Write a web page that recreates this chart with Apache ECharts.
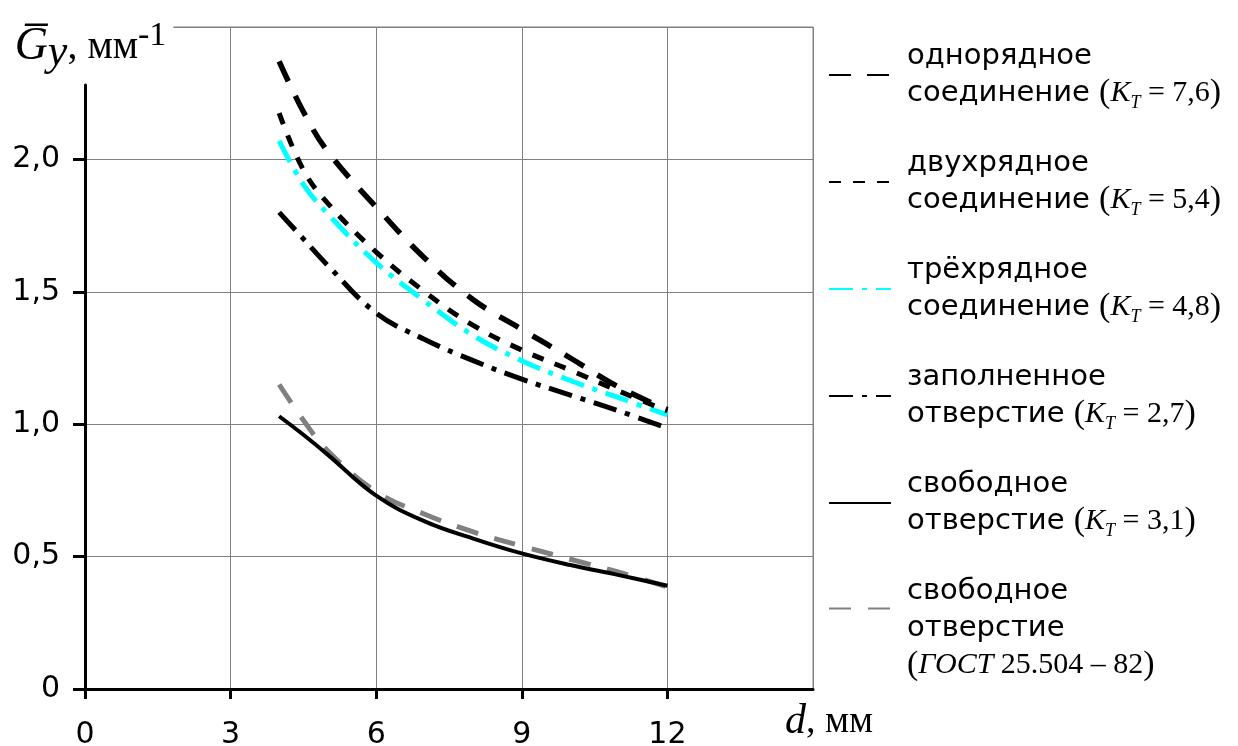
<!DOCTYPE html>
<html>
<head>
<meta charset="utf-8">
<script src="https://cdn.jsdelivr.net/npm/echarts@6/dist/echarts.min.js"></script>
<style>
html,body{margin:0;padding:0;background:#fff;}
#chart{width:1238px;height:746px;}
</style>
</head>
<body>
<div id="chart"></div>
<script>
// ---- data ----
const xValues = [4, 4.5, 5, 6, 7, 8, 9, 10, 11, 12];
const odnoryadnoe = [2.37, 2.18, 2.03, 1.82, 1.627, 1.47, 1.358, 1.25, 1.14, 1.055];
const dvuhryadnoe = [2.175, 1.96, 1.835, 1.65, 1.50, 1.373, 1.28, 1.204, 1.125, 1.05];
const tryohryadnoe = [2.07, 1.905, 1.795, 1.61, 1.465, 1.335, 1.24, 1.165, 1.10, 1.035];
const zapolnennoe = [1.80, 1.70, 1.60, 1.42, 1.32, 1.24, 1.17, 1.11, 1.05, 0.985];
const svobodnoe = [1.03, 0.96, 0.885, 0.73, 0.633, 0.568, 0.512, 0.468, 0.43, 0.39];
const svobodnoeGost = [1.15, 1.015, 0.90, 0.745, 0.66, 0.593, 0.54, 0.49, 0.441, 0.385];

const seriesNames = ['однорядное соединение', 'двухрядное соединение', 'трёхрядное соединение',
  'заполненное отверстие', 'свободное отверстие', 'свободное отверстие ГОСТ'];
const firstLines = ['однорядное', 'двухрядное', 'трёхрядное', 'заполненное', 'свободное', 'свободное'];
const secondLines = ['соединение', 'соединение', 'соединение', 'отверстие', 'отверстие', 'отверстие'];
const ktValues = ['7,6', '5,4', '4,8', '2,7', '3,1', null];
const gostLabel = ['ГОСТ', '25.504 – 82'];

const xTicks = { min: 0, max: 15, interval: 3 };
const yTicks = { min: 0, max: 2.5, interval: 0.5 };

function pairs(ys) { return xValues.map((x, i) => [x, ys[i]]); }

const chart = echarts.init(document.getElementById('chart'));

const serifFont = '"Liberation Serif", "Times New Roman", serif';
const sansFont = '"DejaVu Sans", sans-serif';

const legendRich = {
  p: { fontFamily: serifFont, fontSize: 34, lineHeight: 37, color: '#000' },
  k: { fontFamily: serifFont, fontStyle: 'italic', fontSize: 30, lineHeight: 37, color: '#000' },
  t: { fontFamily: serifFont, fontStyle: 'italic', fontSize: 18, lineHeight: 24, verticalAlign: 'bottom', color: '#000' },
  v: { fontFamily: serifFont, fontSize: 30, lineHeight: 37, color: '#000' },
  gap: { fontSize: 10, lineHeight: 40 }
};

function legendText(name) {
  const i = seriesNames.indexOf(name);
  if (ktValues[i] !== null) {
    return firstLines[i] + '\n' + secondLines[i] + ' {p|(}{k|K}{t|T}{v| = ' + ktValues[i] + '}{p|)}';
  }
  return '{gap| }\n' + firstLines[i] + '\n' + secondLines[i] + '\n{p|(}{k|' + gostLabel[0] + '}{v| ' + gostLabel[1] + '}{p|)}';
}

const styles = [
  { color: '#000000', width: 5.5, type: [22, 16] },
  { color: '#000000', width: 5, type: [12, 12] },
  { color: '#00ffff', width: 5, type: [24, 9, 5, 9] },
  { color: '#000000', width: 5, type: [24, 9, 5, 9] },
  { color: '#000000', width: 4, type: 'solid' },
  { color: '#808080', width: 5, type: [22, 17] }
];
const datasets = [odnoryadnoe, dvuhryadnoe, tryohryadnoe, zapolnennoe, svobodnoe, svobodnoeGost];

const legendCommon = {
  orient: 'vertical',
  left: 828,
  padding: 0,
  itemWidth: 62,
  itemHeight: 14,
  itemGap: 33,
  selectedMode: false,
  formatter: legendText,
  itemStyle: { opacity: 0 },
  textStyle: {
    fontFamily: sansFont, fontSize: 29, lineHeight: 37, color: '#000',
    padding: [0, 0, 0, 11],
    rich: legendRich
  }
};

const option = {
  animation: false,
  backgroundColor: '#ffffff',
  grid: [
    {
      left: 85, right: 425, top: 27, bottom: 57,
      outerBoundsMode: 'none', containLabel: false,
      show: true, borderColor: '#808080', borderWidth: 1
    },
    {
      // second grid only carries the shorter black y axis line (starts below the axis title)
      left: 85, right: 425, top: 85, bottom: 57,
      outerBoundsMode: 'none', containLabel: false, show: false
    }
  ],
  legend: [
    Object.assign({}, legendCommon, { top: 38, data: seriesNames.slice(0, 5) }),
    Object.assign({}, legendCommon, { top: 533, data: seriesNames.slice(5) })
  ],
  xAxis: [{
    type: 'value',
    gridIndex: 0,
    min: xTicks.min, max: xTicks.max, interval: xTicks.interval,
    axisLine: { show: true, onZero: false, lineStyle: { color: '#000', width: 3 } },
    axisTick: { show: true, inside: false, length: 10, lineStyle: { color: '#000', width: 3 } },
    splitLine: { show: true, lineStyle: { color: '#808080', width: 1 } },
    axisLabel: {
      margin: 31, showMaxLabel: false,
      fontFamily: sansFont, fontSize: 30, color: '#000'
    },
    name: '{d|d}{m|, мм}',
    nameLocation: 'end',
    nameGap: 16,
    nameTextStyle: {
      align: 'center', verticalAlign: 'top', padding: [14, 0, 0, 0], lineHeight: 38,
      rich: {
        d: { fontFamily: serifFont, fontStyle: 'italic', fontSize: 42, lineHeight: 38, color: '#000' },
        m: { fontFamily: serifFont, fontSize: 38, lineHeight: 38, color: '#000' }
      }
    }
  }, {
    type: 'value', gridIndex: 1, min: xTicks.min, max: xTicks.max, show: false
  }],
  yAxis: [{
    type: 'value',
    gridIndex: 0,
    min: yTicks.min, max: yTicks.max, interval: yTicks.interval,
    axisLine: { show: false },
    axisTick: { show: true, inside: false, length: 12, lineStyle: { color: '#000', width: 3 } },
    splitLine: { show: true, lineStyle: { color: '#808080', width: 1 } },
    axisLabel: {
      margin: 25, showMaxLabel: false,
      fontFamily: sansFont, fontSize: 30, color: '#000',
      formatter: v => v === 0 ? '0' : v.toFixed(1).replace('.', ',')
    },
    name: '{g|G\u0305}{y|y}{c|, мм}{s|-1}',
    nameLocation: 'end',
    nameGap: -58,
    nameTextStyle: {
      align: 'center', verticalAlign: 'bottom',
      backgroundColor: '#ffffff',
      padding: [4, 7, 10, 18],
      lineHeight: 56,
      rich: {
        g: { fontFamily: serifFont, fontStyle: 'italic', fontSize: 46, lineHeight: 56, color: '#000' },
        y: { fontFamily: serifFont, fontStyle: 'italic', fontSize: 44, lineHeight: 44, verticalAlign: 'bottom', color: '#000' },
        c: { fontFamily: serifFont, fontSize: 40, lineHeight: 56, color: '#000' },
        s: { fontFamily: serifFont, fontSize: 34, lineHeight: 40, verticalAlign: 'top', color: '#000' }
      }
    }
  }, {
    type: 'value',
    gridIndex: 1,
    min: 0, max: 1,
    axisLine: { show: true, onZero: false, lineStyle: { color: '#000', width: 3 } },
    axisTick: { show: false },
    axisLabel: { show: false },
    splitLine: { show: false }
  }],
  series: datasets.map((d, i) => ({
    name: seriesNames[i],
    type: 'line',
    xAxisIndex: 0,
    yAxisIndex: 0,
    data: pairs(d),
    symbol: 'none',
    smooth: 0.4,
    itemStyle: { color: styles[i].color },
    lineStyle: Object.assign({ cap: 'butt' }, styles[i]),
    z: 10 - i
  }))
};

chart.setOption(option);
</script>
</body>
</html>
